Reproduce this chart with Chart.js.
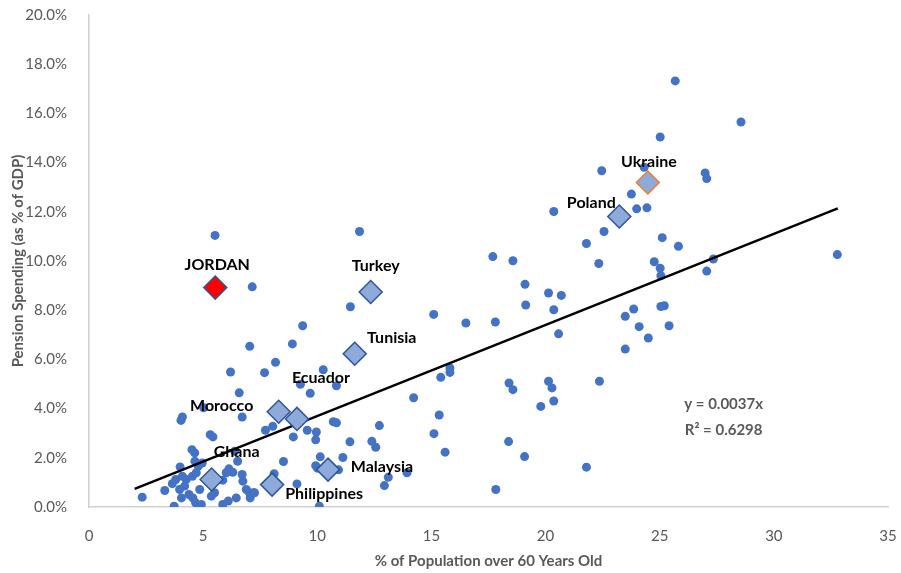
<!DOCTYPE html>
<html>
<head>
<meta charset="utf-8">
<script src="https://cdn.jsdelivr.net/npm/chart.js@4"></script>
<style>
  html, body { margin: 0; padding: 0; background: #ffffff; }
  #wrap { width: 901px; height: 573px; }
</style>
</head>
<body>
<div id="wrap"><canvas id="pensionChart" width="901" height="573"></canvas></div>
<script>
// Todos os países: % da população com mais de 60 anos
const AGE = [
  25.68, 28.56, 25.02, 22.46, 24.32, 26.99, 27.06, 23.76, 23.99, 24.44,
  20.36, 22.56, 21.79, 25.11, 25.82, 22.33, 24.76, 25.02, 25.05, 27.35,
  27.06, 32.78, 20.13, 20.69, 20.36, 23.86, 25.05, 25.20, 20.57, 23.49,
  24.10, 24.50, 23.49, 25.41, 22.36, 20.13, 20.28, 20.36, 21.79, 17.69,
  18.57, 19.10, 19.13, 15.10, 16.51, 17.80, 15.81, 15.81, 15.41, 18.40,
  18.57, 14.22, 5.52, 11.85, 7.15, 11.45, 9.36, 7.04, 8.91, 8.17,
  6.20, 7.69, 10.26, 6.58, 9.26, 10.84, 9.69, 19.79, 8.05, 7.73,
  8.95, 9.56, 9.96, 9.93, 10.70, 10.84, 12.72, 11.43, 12.39, 12.56,
  15.11, 15.34, 15.60, 18.38, 19.08, 17.82, 8.52, 10.13, 11.12, 9.93,
  10.01, 10.93, 13.11, 12.94, 13.93, 8.11, 9.11, 10.09, 7.03, 7.21,
  2.33, 3.32, 3.73, 3.65, 3.80, 3.97, 4.05, 4.09, 4.03, 3.99,
  4.09, 4.26, 4.19, 4.38, 4.51, 4.63, 4.53, 4.70, 4.79, 4.64,
  4.55, 4.67, 4.85, 4.92, 4.96, 5.02, 5.31, 5.43, 5.36, 5.50,
  5.86, 6.10, 5.86, 6.01, 6.13, 6.30, 6.45, 6.51, 6.38, 6.71,
  6.71, 6.74, 6.89, 7.06, 7.25
];

// Gasto com pensões (fração do PIB), na mesma ordem
const PENSION = [
  0.1732, 0.1565, 0.1504, 0.1367, 0.1381, 0.1358, 0.1335, 0.1272, 0.1212, 0.1216,
  0.1201, 0.1120, 0.1071, 0.1095, 0.1060, 0.0990, 0.0997, 0.0971, 0.0940, 0.1008,
  0.0959, 0.1026, 0.0870, 0.0860, 0.0802, 0.0805, 0.0815, 0.0818, 0.0704, 0.0775,
  0.0733, 0.0687, 0.0642, 0.0737, 0.0511, 0.0511, 0.0484, 0.0431, 0.0162, 0.1018,
  0.1001, 0.0905, 0.0821, 0.0783, 0.0748, 0.0752, 0.0565, 0.0547, 0.0527, 0.0504,
  0.0477, 0.0444, 0.1104, 0.1120, 0.0895, 0.0814, 0.0737, 0.0653, 0.0663, 0.0588,
  0.0549, 0.0546, 0.0558, 0.0464, 0.0499, 0.0493, 0.0462, 0.0409, 0.0328, 0.0312,
  0.0285, 0.0312, 0.0305, 0.0273, 0.0347, 0.0342, 0.0331, 0.0265, 0.0267, 0.0243,
  0.0298, 0.0374, 0.0223, 0.0266, 0.0205, 0.0071, 0.0185, 0.0204, 0.0201, 0.0168,
  0.0158, 0.0151, 0.0121, 0.0087, 0.0139, 0.0135, 0.0094, 0.0003, 0.0058, 0.0058,
  0.0040, 0.0067, 0.0003, 0.0095, 0.0112, 0.0071, 0.0037, 0.0366, 0.0352, 0.0163,
  0.0125, 0.0112, 0.0085, 0.0051, 0.0233, 0.0220, 0.0125, 0.0139, 0.0166, 0.0186,
  0.0037, 0.0017, 0.0071, 0.0010, 0.0179, 0.0403, 0.0294, 0.0285, 0.0044, 0.0058,
  0.0010, 0.0024, 0.0109, 0.0139, 0.0155, 0.0141, 0.0037, 0.0186, 0.0227, 0.0366,
  0.0132, 0.0105, 0.0071, 0.0037, 0.0058
];

// Países destacados
const COUNTRIES = ['JORDAN', 'Turkey', 'Tunisia', 'Ecuador', 'Morocco', 'Ghana', 'Malaysia', 'Philippines', 'Poland', 'Ukraine'];
const COUNTRY_AGE = [5.53, 12.34, 11.64, 9.11, 8.31, 5.37, 10.47, 8.02, 23.23, 24.48];
const COUNTRY_PENSION = [0.0892, 0.0874, 0.0623, 0.0358, 0.0387, 0.0112, 0.0152, 0.0091, 0.1181, 0.1319];

// Linha de tendência (y = 0.0037x)
const TREND_SLOPE = 0.0037;
const TREND_RANGE = [2, 32.8];
const TREND_TEXT = ['y = 0.0037x', 'R\u00B2 = 0.6298'];

const X_TICKS = [0, 5, 10, 15, 20, 25, 30, 35];
const Y_TICKS = [0, 0.02, 0.04, 0.06, 0.08, 0.10, 0.12, 0.14, 0.16, 0.18, 0.20];

// Deslocamento dos rótulos em pixels, relativo ao losango
const LABEL_DX = [2, 5, 37, 24, -57, 25, 54, 52, -28, 1];
const LABEL_DY = [-23, -26, -16, -41, -6, -28, -3, 9, -14, -21];

const FONT = 'Lato, "Open Sans", sans-serif';
const GREY = '#595959';

const dots = AGE.map((x, i) => ({ x: x, y: PENSION[i] }));
const highlighted = COUNTRY_AGE.map((x, i) => ({ x: x, y: COUNTRY_PENSION[i] }));
const trend = TREND_RANGE.map(x => ({ x: x, y: TREND_SLOPE * x }));

const fill = COUNTRIES.map(c => c === 'JORDAN' ? '#ff0000' : '#8eaadb');
const border = COUNTRIES.map(c => c === 'Ukraine' ? '#ed7d31' : '#2f5597');

// Rótulos dos países e equação da tendência
const labelPlugin = {
    id: 'countryLabels',
    afterDatasetsDraw(chart) {
        const ctx = chart.ctx;
        const meta = chart.getDatasetMeta(0);
        ctx.save();
        ctx.font = 'bold 16px ' + FONT;
        ctx.fillStyle = '#000000';
        ctx.textAlign = 'center';
        ctx.textBaseline = 'middle';
        meta.data.forEach((pt, i) => {
            ctx.fillText(COUNTRIES[i], pt.x + LABEL_DX[i], pt.y + LABEL_DY[i]);
        });
        const xs = chart.scales.x, ys = chart.scales.y;
        const ex = xs.getPixelForValue(27.8);
        const ey = ys.getPixelForValue(0.042);
        ctx.fillStyle = GREY;
        ctx.font = 'bold 15px ' + FONT;
        ctx.fillText(TREND_TEXT[0], ex, ey);
        ctx.fillText(TREND_TEXT[1], ex, ey + 26);
        ctx.restore();
    }
};

const config = {
    type: 'scatter',
    data: {
        datasets: [{
            label: 'Países',
            data: highlighted,
            pointStyle: 'rectRot',
            pointRadius: 11.5,
            pointBackgroundColor: fill,
            pointBorderColor: border,
            pointBorderWidth: 1.5,
            order: 0
        }, {
            type: 'line',
            label: 'Tendência',
            data: trend,
            borderColor: '#000000',
            borderWidth: 2.5,
            pointRadius: 0,
            fill: false,
            order: 1
        }, {
            label: 'Outros',
            data: dots,
            pointStyle: 'circle',
            pointRadius: 4.5,
            pointBackgroundColor: '#4472c4',
            pointBorderWidth: 0,
            order: 2
        }]
    },
    options: {
        responsive: false,
        animation: false,
        events: [],
        layout: { padding: { top: 15, right: 9, left: 0, bottom: 0 } },
        plugins: {
            legend: { display: false },
            tooltip: { enabled: false },
            title: { display: false }
        },
        scales: {
            x: {
                type: 'linear',
                min: 0,
                max: 35,
                afterBuildTicks: s => { s.ticks = X_TICKS.map(v => ({ value: v })); },
                grid: { display: false },
                border: { display: true, color: '#d0d0d0', width: 1.5 },
                ticks: { color: GREY, font: { family: FONT, size: 15 }, padding: 12 },
                title: {
                    display: true,
                    text: '% of Population over 60 Years Old',
                    color: GREY,
                    font: { family: FONT, size: 15, weight: 'bold' },
                    padding: { top: 6, bottom: 3 }
                },
                afterFit: s => { s.height = 66; s.paddingLeft = 0; s.paddingRight = 0; }
            },
            y: {
                type: 'linear',
                min: 0,
                max: 0.2,
                afterBuildTicks: s => { s.ticks = Y_TICKS.map(v => ({ value: v })); },
                grid: { display: false },
                border: { display: true, color: '#d0d0d0', width: 1.5 },
                ticks: {
                    color: GREY,
                    font: { family: FONT, size: 15 },
                    padding: 14,
                    callback: v => (v * 100).toFixed(1) + '%'
                },
                title: {
                    display: true,
                    text: 'Pension Spending (as % of GDP)',
                    color: GREY,
                    font: { family: FONT, size: 15, weight: 'bold' },
                    padding: { top: 9, bottom: 0 }
                },
                afterFit: s => { s.width = 89; s.paddingTop = 0; s.paddingBottom = 0; }
            }
        }
    },
    plugins: [labelPlugin]
};

function initializeChart() {
    const ctx = document.getElementById('pensionChart').getContext('2d');
    new Chart(ctx, config);
}

document.addEventListener('DOMContentLoaded', initializeChart);
</script>
</body>
</html>
